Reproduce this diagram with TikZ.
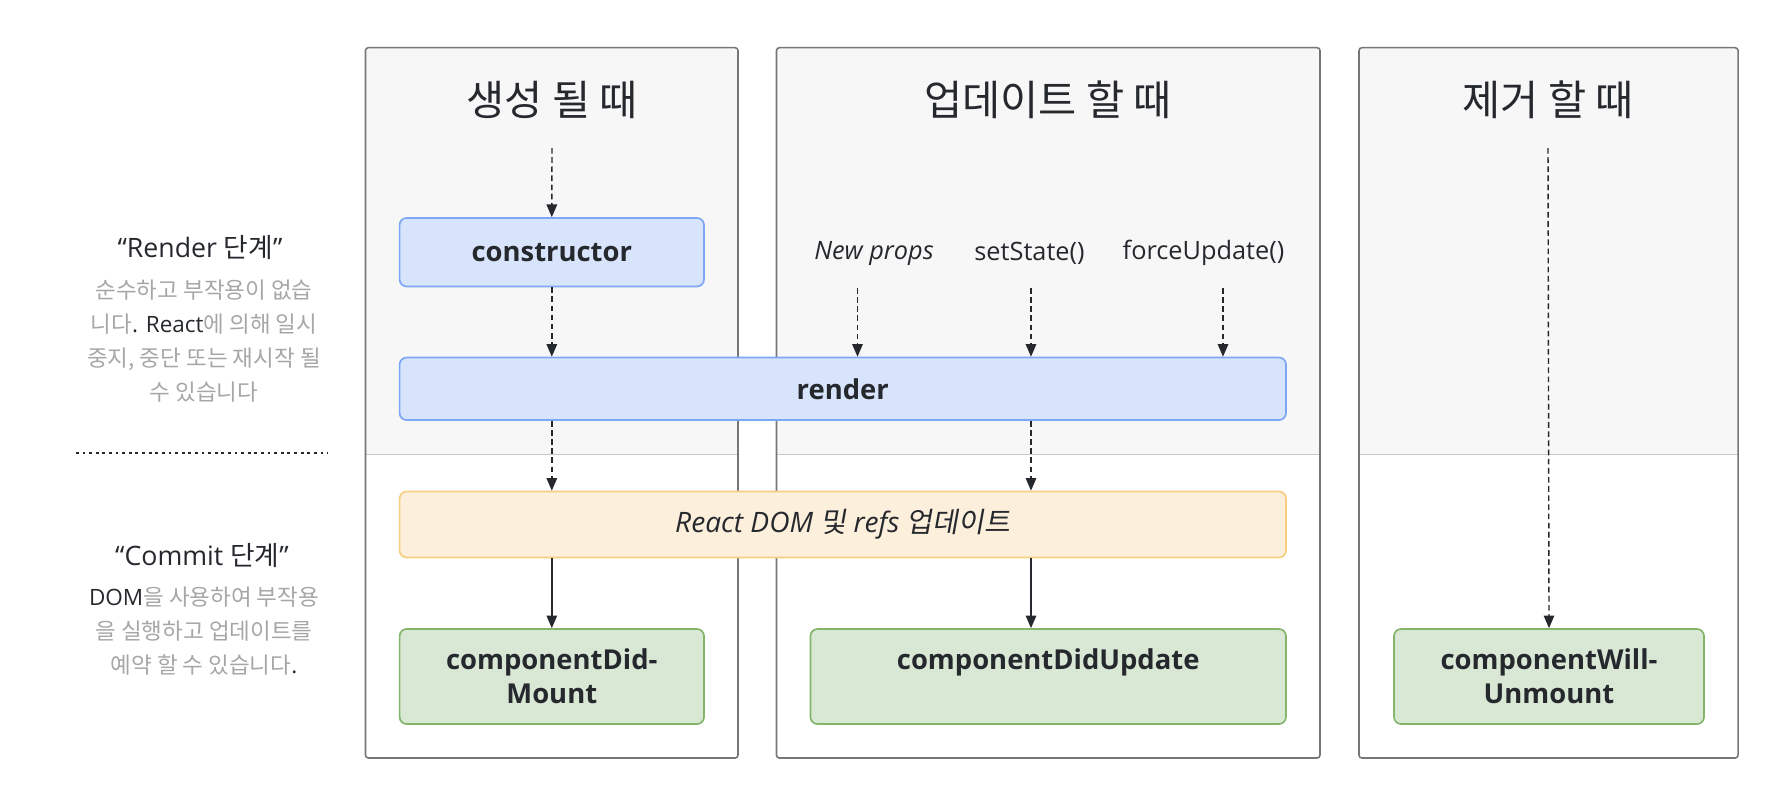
\documentclass[tikz,border=0pt]{standalone}
\usepackage{fontspec}
\setmainfont{Open Sans}
\newfontfamily\krfont{Noto Sans CJK KR}
\newfontfamily\krslant[FakeSlant=0.18]{Noto Sans CJK KR}
\usetikzlibrary{arrows.meta, positioning, calc}
\definecolor{framegray}{HTML}{767676}
\definecolor{uppergray}{HTML}{F7F7F7}
\definecolor{divgray}{HTML}{C8C8C8}
\definecolor{textdark}{HTML}{25282D}
\definecolor{notegray}{HTML}{A6A6A6}
\definecolor{bluefill}{HTML}{D7E4FC}
\definecolor{blueline}{HTML}{7EA6F6}
\definecolor{yellowfill}{HTML}{FCEFDB}
\definecolor{yellowline}{HTML}{F5CF7F}
\definecolor{greenfill}{HTML}{D9E7D5}
\definecolor{greenline}{HTML}{82B46A}
\newcommand{\ko}[1]{{\krfont #1}}
\newcommand{\kog}[1]{{\krfont\color{notegray}#1}}
\newcommand{\kos}[1]{{\krslant #1}}

\begin{document}
\begin{tikzpicture}[
            x=0.025cm, y=-0.025cm,
            font=\fontsize{18}{22}\selectfont,
            >={Triangle[length=9pt, width=7.5pt]},
            % frames: 1.1pt grey, upper half shaded
            colframe/.style={draw=framegray, line width=1.1pt, rounded corners=2pt},
            divider/.style ={draw=divgray, line width=1pt},
            flow/.style    ={->, draw=textdark, line width=1pt},
            dflow/.style   ={flow, dash pattern=on 4pt off 2.5pt},
            lifebox/.style ={draw, rounded corners=5pt, line width=1.2pt, inner sep=0pt,
                             text=textdark, align=center,
                             font=\bfseries\fontsize{19.5}{24.2}\selectfont},
            rendbox/.style ={lifebox, draw=blueline, fill=bluefill},
            commbox/.style ={lifebox, draw=yellowline, fill=yellowfill,
                             font=\itshape\fontsize{20}{24}\selectfont},
            donebox/.style ={lifebox, draw=greenline, fill=greenfill},
            coltitle/.style={text=textdark, font=\fontsize{29.5}{34}\selectfont},
            trigger/.style ={text=textdark},
            phase/.style   ={text=textdark, font=\fontsize{19}{22}\selectfont},
            phasenote/.style={text=textdark, align=center,
                             font=\fontsize{16}{24.2}\selectfont}
        ]
        \useasboundingbox (0,0) rectangle (1780,790);

        %% ===== Columns =====
        \begin{scope}
            \clip[rounded corners=2pt] (365.5,47.7) rectangle (738,758);
            \fill[uppergray] (365.5,47.7) rectangle (738,454.5);
            \draw[divider] (365.5,454.5) -- (738,454.5);
        \end{scope}
        \draw[colframe] (365.5,47.7) rectangle (738,758);

        \begin{scope}
            \clip[rounded corners=2pt] (776.5,47.7) rectangle (1320,758);
            \fill[uppergray] (776.5,47.7) rectangle (1320,454.5);
            \draw[divider] (776.5,454.5) -- (1320,454.5);
        \end{scope}
        \draw[colframe] (776.5,47.7) rectangle (1320,758);

        \begin{scope}
            \clip[rounded corners=2pt] (1359,47.7) rectangle (1738,758);
            \fill[uppergray] (1359,47.7) rectangle (1738,454.5);
            \draw[divider] (1359,454.5) -- (1738,454.5);
        \end{scope}
        \draw[colframe] (1359,47.7) rectangle (1738,758);

        \node[coltitle] (tmount)   at (552,100)  {\ko{생성 될 때}};
        \node[coltitle] (tupdate)  at (1048,100) {\ko{업데이트 할 때}};
        \node[coltitle] (tunmount) at (1548,100) {\ko{제거 할 때}};

        %% ===== Phase labels (left) =====
        \node[phase] (rphase) at (200,247) {“Render \ko{단계}”};
        \node[phasenote] (rnote) at (204,341.5)
            {\kog{순수하고 부작용이 없습}\\ \kog{니다}. React\kog{에 의해 일시}\\
             \kog{중지, 중단 또는 재시작 될}\\ \kog{수 있습니다}};
        \draw[textdark, line width=2pt, dash pattern=on 2pt off 2.7pt]
            (76,453) -- (328,453);
        \node[phase] (cphase) at (202,555) {“Commit \ko{단계}”};
        \node[phasenote] (cnote) at (204,631)
            {DOM\kog{을 사용하여 부작용}\\ \kog{을 실행하고 업데이트를}\\
             \kog{예약 할 수 있습니다}.};

        %% ===== Lifecycle boxes =====
        \node[rendbox, minimum width=304.4*0.025cm, minimum height=68.5*0.025cm]
            (ctor) at (551.8,252.2) {constructor};
        \node[rendbox, minimum width=886.4*0.025cm, minimum height=62.5*0.025cm]
            (rnd) at (842.8,388.8) {render};
        \node[commbox, minimum width=886.4*0.025cm, minimum height=66*0.025cm]
            (domupd) at (842.8,524.5) {React DOM \kos{및} refs \kos{업데이트}};
        \node[donebox, minimum width=304.4*0.025cm, minimum height=95*0.025cm]
            (didmount) at (551.8,676.5) {componentDid-\\Mount};
        \node[donebox, minimum width=475.5*0.025cm, minimum height=95*0.025cm]
            (didupdate) at (1048.2,676.5) {componentDidUpdate\\\phantom{Mount}};
        \node[donebox, minimum width=310*0.025cm, minimum height=95*0.025cm]
            (willunmount) at (1549,676.5) {componentWill-\\Unmount};

        %% ===== Update triggers =====
        \node[trigger, font=\itshape\fontsize{18}{22}\selectfont] (newprops) at (874,253) {New props};
        \node[trigger] (setstate) at (1029.5,253) {setState()};
        \node[trigger] (forceupd) at (1203.5,253) {forceUpdate()};
        \coordinate (np) at (857.5,288);
        \coordinate (ss) at (1031,288);
        \coordinate (fu) at (1223,288);
        \coordinate (mstart) at (552,148);
        \coordinate (ustart) at (1548,148);

        %% ===== Arrows =====
        \draw[dflow] (mstart) -- (ctor.north);
        \draw[dflow] (ctor.south) -- (ctor |- rnd.north);
        \draw[dflow] (np) -- (np |- rnd.north);
        \draw[dflow] (ss) -- (ss |- rnd.north);
        \draw[dflow] (fu) -- (fu |- rnd.north);
        \draw[dflow] (ctor |- rnd.south) -- (ctor |- domupd.north);
        \draw[dflow] (ss |- rnd.south) -- (ss |- domupd.north);
        \draw[flow] (ctor |- domupd.south) -- (didmount.north);
        \draw[flow] (ss |- domupd.south) -- (ss |- didupdate.north);
        \draw[dflow] (ustart) -- (willunmount.north);

    \end{tikzpicture}
\end{document}
